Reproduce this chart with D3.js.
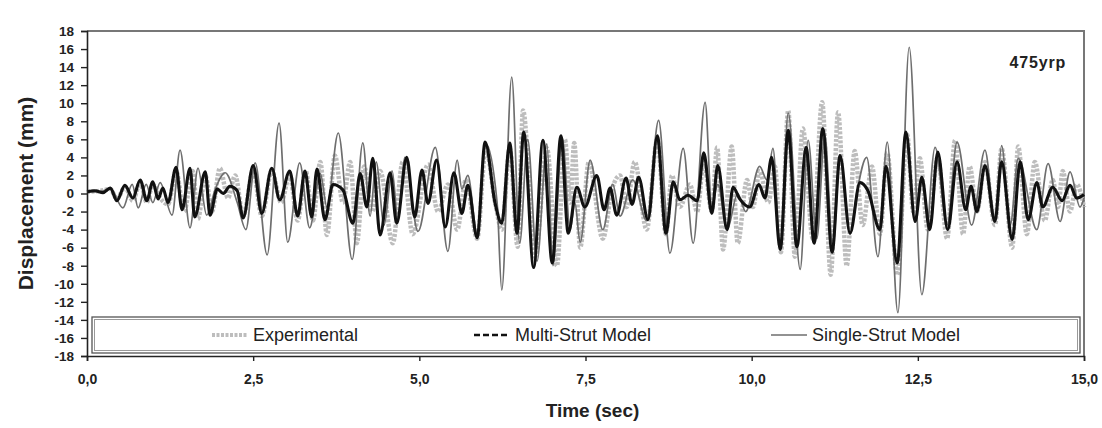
<!DOCTYPE html>
<html lang="en">
<head>
<meta charset="UTF-8">
<title>Displacement time history</title>
<script src="https://cdn.jsdelivr.net/npm/d3@7"></script>
<style>
    body { margin: 0; background: #fff; }
    svg { display: block; font-family: "Liberation Sans", Arial, sans-serif; }
</style>
</head>
<body>
<div id="chart"></div>
<script>
    // extrema: [time (s), displacement (mm)]
    const experimental = [
        [0.00, 0.2], [0.20, 0.3], [0.35, 0.5], [0.45, -0.6], [0.57, 0.7], [0.69, -0.8], [0.80, 1.2], [0.90, -1.0],
        [0.99, 1.0], [1.10, -0.5], [1.22, -1.2], [1.34, 2.5], [1.46, -2.0], [1.59, 2.5], [1.67, -2.8], [1.78, 2.0],
        [1.88, -2.0], [2.00, 2.8], [2.12, -0.5], [2.23, 2.0], [2.35, -2.5], [2.50, 2.5], [2.63, -2.5], [2.78, 2.5],
        [2.92, -1.0], [3.05, 2.0], [3.17, -3.0], [3.29, 2.5], [3.40, -3.0], [3.51, 3.5], [3.61, -4.6], [3.73, 4.2],
        [3.85, -1.0], [3.96, 3.5], [4.06, -5.5], [4.17, 3.0], [4.29, -2.0], [4.41, 2.5], [4.60, -5.5], [4.75, 3.5],
        [4.90, -4.5], [5.13, 3.2], [5.28, -2.0], [5.43, 1.0], [5.57, -4.0], [5.70, 1.5], [5.87, -5.0], [6.00, 5.0],
        [6.14, -1.0], [6.24, -4.0], [6.36, 5.0], [6.48, -5.9], [6.56, 9.2], [6.74, -7.0], [6.92, 5.0], [7.07, -8.0],
        [7.19, 6.0], [7.27, -1.0], [7.33, 5.6], [7.42, -6.0], [7.55, 3.5], [7.76, -5.0], [7.90, 0.5], [8.02, 2.0],
        [8.12, -1.5], [8.24, 3.5], [8.42, -4.0], [8.58, 6.0], [8.71, -4.5], [8.80, 2.0], [8.92, -1.5], [9.07, 1.0],
        [9.18, -2.0], [9.28, 3.5], [9.40, -2.0], [9.48, 5.1], [9.57, -6.2], [9.70, 5.2], [9.79, -5.5], [9.93, 1.5],
        [10.02, -1.5], [10.12, 2.5], [10.25, -1.0], [10.35, 3.0], [10.44, -6.5], [10.55, 9.2], [10.65, -7.0], [10.77, 7.2],
        [10.92, -5.0], [11.06, 10.1], [11.19, -9.0], [11.30, 9.0], [11.43, -8.0], [11.55, 4.7], [11.67, -3.5], [11.81, 3.0],
        [11.93, -4.5], [12.04, 4.5], [12.19, -9.0], [12.34, 6.5], [12.43, -2.0], [12.53, 3.9], [12.65, -4.0], [12.80, 4.0],
        [12.94, -5.0], [13.06, 5.9], [13.18, -4.5], [13.28, 3.0], [13.39, -2.0], [13.51, 3.5], [13.66, -3.5], [13.76, 5.0],
        [13.92, -6.0], [14.01, 5.2], [14.14, -4.5], [14.26, 3.5], [14.41, -3.0], [14.53, 1.5], [14.61, -1.5], [14.68, 2.5],
        [14.79, -2.0], [14.89, 1.0], [15.00, -1.5]
    ];

    const multiStrut = [
        [0.00, 0.2], [0.12, 0.3], [0.24, 0.1], [0.35, 0.6], [0.45, -0.8], [0.57, 0.9], [0.69, -0.5], [0.80, 1.5],
        [0.90, -0.8], [0.99, 1.3], [1.07, -0.6], [1.14, 0.6], [1.22, -1.0], [1.34, 2.9], [1.43, -1.8], [1.55, 2.8],
        [1.62, -2.6], [1.78, 2.4], [1.85, -2.4], [1.96, 0.5], [2.05, 0.0], [2.15, 0.8], [2.26, 0.3], [2.35, -2.7],
        [2.50, 3.1], [2.63, -2.2], [2.78, 2.8], [2.90, -0.7], [3.05, 2.5], [3.17, -2.5], [3.28, 2.5], [3.38, -2.6],
        [3.46, 2.7], [3.58, -2.9], [3.70, 1.0], [3.85, 0.4], [4.00, -3.3], [4.11, 2.2], [4.21, -1.5], [4.30, 3.9],
        [4.41, -4.6], [4.56, 2.3], [4.66, -3.3], [4.81, 4.0], [4.93, -2.6], [5.04, 2.6], [5.13, -1.1], [5.26, 3.7],
        [5.39, -3.7], [5.52, 2.3], [5.64, -2.2], [5.73, 0.9], [5.87, -4.9], [5.99, 5.7], [6.14, -1.1], [6.24, -3.3],
        [6.36, 5.6], [6.47, -4.4], [6.57, 6.8], [6.72, -8.2], [6.86, 5.9], [7.00, -7.7], [7.13, 6.4], [7.24, -4.4],
        [7.37, 0.7], [7.49, -1.5], [7.67, 2.0], [7.78, -1.8], [7.87, 0.6], [7.97, -2.4], [8.11, 1.7], [8.20, -1.2],
        [8.30, 1.8], [8.44, -2.9], [8.58, 6.4], [8.71, -4.4], [8.82, 1.3], [8.92, -0.7], [9.04, -0.2], [9.18, -0.8],
        [9.28, 4.5], [9.40, -2.2], [9.49, 3.1], [9.63, -4.0], [9.72, 0.7], [9.82, -0.6], [9.97, -1.5], [10.11, 1.0],
        [10.20, -0.5], [10.30, 4.0], [10.43, -6.2], [10.55, 7.0], [10.68, -5.9], [10.82, 5.1], [10.94, -5.5], [11.07, 7.2],
        [11.21, -6.5], [11.33, 4.2], [11.48, -4.4], [11.63, 1.2], [11.75, 0.3], [11.93, -4.0], [12.02, 3.0], [12.19, -7.7],
        [12.32, 6.8], [12.46, -3.1], [12.56, 1.8], [12.68, -4.0], [12.80, 4.6], [12.95, -4.0], [13.09, 3.5], [13.22, -1.8],
        [13.30, 0.8], [13.39, -2.0], [13.51, 3.1], [13.66, -3.1], [13.76, 3.5], [13.92, -5.1], [14.04, 3.5], [14.16, -2.9],
        [14.29, 1.2], [14.38, -1.5], [14.53, 0.7], [14.67, -0.8], [14.79, 0.9], [14.89, -0.5], [15.00, -0.1]
    ];

    const singleStrut = [
        [0.00, 0.2], [0.20, 0.2], [0.35, 0.6], [0.54, -1.6], [0.68, 1.0], [0.77, -1.6], [0.89, 1.0], [0.99, -1.0],
        [1.10, 1.2], [1.28, -2.4], [1.40, 4.8], [1.55, -3.8], [1.67, 2.8], [1.80, -2.4], [1.93, 0.5], [2.08, 2.3],
        [2.26, -1.0], [2.39, -4.0], [2.53, 3.4], [2.71, -6.8], [2.89, 7.8], [3.02, -5.4], [3.20, 3.4], [3.35, -3.8],
        [3.51, 2.2], [3.61, -1.5], [3.78, 6.7], [3.99, -7.3], [4.15, 5.6], [4.26, -2.5], [4.35, 3.5], [4.47, -3.5],
        [4.59, 2.5], [4.68, -3.0], [4.78, 4.0], [4.98, -4.2], [5.24, 5.1], [5.43, -6.4], [5.57, 3.7], [5.64, 0.5],
        [5.73, 2.0], [5.87, -4.5], [6.00, 5.5], [6.17, -1.0], [6.24, -10.7], [6.39, 12.9], [6.51, -5.5], [6.63, 6.0],
        [6.77, -7.5], [6.92, 5.5], [7.01, -8.0], [7.15, 6.2], [7.27, -4.0], [7.34, -1.0], [7.42, -5.4], [7.57, 3.7],
        [7.76, -4.0], [7.91, 1.0], [8.02, -2.5], [8.21, 1.5], [8.42, -3.0], [8.60, 8.1], [8.77, -6.6], [8.97, 5.0],
        [9.12, -5.5], [9.30, 10.1], [9.40, -1.5], [9.49, 1.0], [9.63, -4.0], [9.79, 0.0], [9.91, -2.0], [10.12, 3.0],
        [10.23, 1.5], [10.32, 5.0], [10.43, -6.0], [10.55, 8.9], [10.73, -8.4], [10.85, 5.9], [10.98, -5.0], [11.10, 6.5],
        [11.22, -6.0], [11.33, 4.0], [11.48, -4.5], [11.58, 0.0], [11.73, 4.0], [11.90, -7.0], [12.04, 5.7], [12.20, -13.2],
        [12.37, 16.2], [12.56, -11.2], [12.76, 5.1], [12.94, -3.5], [13.09, 5.7], [13.31, -3.5], [13.51, 4.8], [13.66, -3.0],
        [13.76, 5.3], [13.89, -3.5], [14.01, 3.9], [14.29, -4.0], [14.46, 3.3], [14.64, -3.1], [14.79, 2.4], [14.94, -1.5],
        [15.00, -0.5]
    ];

    const xTicks = [0, 2.5, 5, 7.5, 10, 12.5, 15];
    const yTicks = d3.range(-18, 19, 2);
    const legendLabels = ["Experimental", "Multi-Strut Model", "Single-Strut Model"];

    const width = 1102, height = 428;
    const margin = {top: 31, right: 18, bottom: 72, left: 87};

    const svg = d3.select("#chart").append("svg")
        .attr("width", width)
        .attr("height", height);

    const x = d3.scaleLinear().domain([0, 15]).range([margin.left, width - margin.right]);
    const y = d3.scaleLinear().domain([-18, 18]).range([height - margin.bottom, margin.top]);

    const line = d3.line()
        .x(d => x(d[0]))
        .y(d => y(d[1]))
        .curve(d3.curveMonotoneX);

    // frame (top + right)
    svg.append("path")
        .attr("d", `M${x(0)},${y(18)}H${x(15)}V${y(-18)}`)
        .attr("fill", "none")
        .attr("stroke", "#777")
        .attr("stroke-width", 2);

    // series
    svg.append("path")
        .datum(experimental)
        .attr("d", line)
        .attr("fill", "none")
        .attr("stroke", "#bdbdbd")
        .attr("stroke-width", 4.5)
        .attr("stroke-dasharray", "3,1.5");

    svg.append("path")
        .datum(singleStrut)
        .attr("d", line)
        .attr("fill", "none")
        .attr("stroke", "#6e6e6e")
        .attr("stroke-width", 1.7);

    svg.append("path")
        .datum(multiStrut)
        .attr("d", line)
        .attr("fill", "none")
        .attr("stroke", "#111")
        .attr("stroke-width", 3.1);

    // axes
    const yAxis = svg.append("g")
        .attr("transform", `translate(${x(0)},0)`)
        .call(d3.axisLeft(y).tickValues(yTicks).tickSize(6).tickPadding(7).tickFormat(d => String(d)));

    const xAxis = svg.append("g")
        .attr("transform", `translate(0,${y(-18)})`)
        .call(d3.axisBottom(x).tickValues(xTicks).tickSize(5).tickPadding(13)
            .tickFormat(d => d.toFixed(1).replace(".", ",")));

    [yAxis, xAxis].forEach(g => {
        g.select(".domain").attr("stroke", "#222").attr("stroke-width", 1.6);
        g.selectAll(".tick line").attr("stroke", "#222").attr("stroke-width", 1.4);
        g.selectAll("text")
            .attr("fill", "#222")
            .style("font-size", "14px")
            .style("font-weight", "bold");
    });
    yAxis.selectAll("text").style("font-size", "13.5px");

    svg.append("text")
        .attr("transform", `translate(33,${y(0)}) rotate(-90)`)
        .attr("text-anchor", "middle")
        .style("font-size", "21px")
        .style("font-weight", "bold")
        .attr("fill", "#222")
        .text("Displacement (mm)");

    svg.append("text")
        .attr("x", (x(0) + x(15)) / 2 + 7)
        .attr("y", 417)
        .attr("text-anchor", "middle")
        .style("font-size", "19px")
        .style("font-weight", "bold")
        .attr("fill", "#222")
        .text("Time (sec)");

    svg.append("text")
        .attr("x", 1066)
        .attr("y", 68)
        .attr("text-anchor", "end")
        .style("font-size", "16px")
        .style("font-weight", "bold")
        .style("letter-spacing", "0.8px")
        .attr("fill", "#222")
        .text("475yrp");

    // legend box (double rule)
    const lg = svg.append("g");
    lg.append("rect")
        .attr("x", 92).attr("y", 317).attr("width", 988).attr("height", 36)
        .attr("fill", "#fff").attr("stroke", "#555").attr("stroke-width", 1.3);
    lg.append("rect")
        .attr("x", 94.5).attr("y", 319.5).attr("width", 983).attr("height", 31)
        .attr("fill", "none").attr("stroke", "#999").attr("stroke-width", 1);

    const legendItems = [
        {x: 212, stroke: "#bdbdbd", w: 4, dash: "3,1.5"},
        {x: 474, stroke: "#111", w: 2.4, dash: "6,3"},
        {x: 771, stroke: "#6e6e6e", w: 1.7, dash: null}
    ];
    legendItems.forEach((it, i) => {
        lg.append("line")
            .attr("x1", it.x).attr("x2", it.x + 36)
            .attr("y1", 335).attr("y2", 335)
            .attr("stroke", it.stroke)
            .attr("stroke-width", it.w)
            .attr("stroke-dasharray", it.dash);
        lg.append("text")
            .attr("x", it.x + 41)
            .attr("y", 341)
            .style("font-size", "18px")
            .attr("fill", "#222")
            .text(legendLabels[i]);
    });
</script>
</body>
</html>
